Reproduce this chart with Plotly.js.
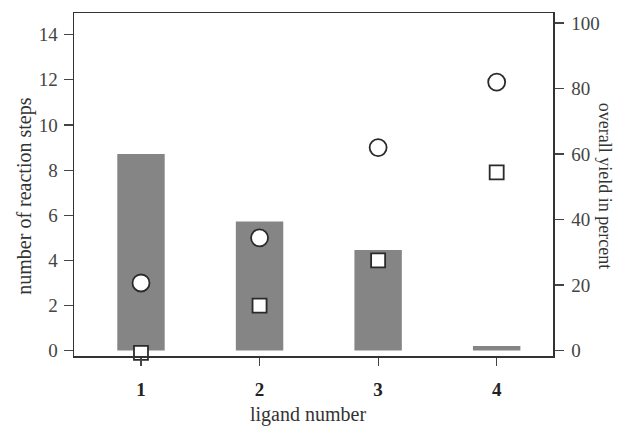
<!DOCTYPE html>
<html>
<head>
<meta charset="utf-8">
<script src="https://cdn.plot.ly/plotly-3.0.1.min.js"></script>
<style>html,body{margin:0;padding:0;background:#fff;}</style>
</head>
<body>
<div id="chart" style="width:618px;height:427px;"></div>
<script>
const ligands = [1, 2, 3, 4];
const tickLabels = ['1', '2', '3', '4'];
const yieldBars = [60, 39.4, 30.7, 1.4];
const stepsCircles = [3, 5, 9, 11.9];
const stepsSquares = [-0.1, 2, 4, 7.9];
const stepTicks = [0, 2, 4, 6, 8, 10, 12, 14];
const yieldTicks = [0, 20, 40, 60, 80, 100];

const font = 'Liberation Serif, Times New Roman, serif';
const traces = [
  {type: 'bar', x: ligands, y: yieldBars, yaxis: 'y', width: 0.4,
   marker: {color: '#858585', line: {width: 0}}, showlegend: false, hoverinfo: 'none'},
  {type: 'scatter', mode: 'markers', x: ligands, y: stepsCircles, yaxis: 'y2',
   marker: {symbol: 'circle', size: 17, color: '#ffffff', line: {color: '#2a2a2a', width: 1.8}},
   showlegend: false, cliponaxis: false},
  {type: 'scatter', mode: 'markers', x: ligands, y: stepsSquares, yaxis: 'y2',
   marker: {symbol: 'square', size: 14, color: '#ffffff', line: {color: '#2a2a2a', width: 1.8}},
   showlegend: false, cliponaxis: false}
];

const axisCommon = {
  showgrid: false, zeroline: false, showline: true, linecolor: '#333', linewidth: 1.5,
  ticks: 'outside', ticklen: 9, tickcolor: '#444', tickwidth: 1.2,
  tickfont: {family: font, size: 19, color: '#444'}
};

const layout = {
  width: 618, height: 427,
  margin: {l: 74, r: 65, t: 13, b: 71},
  paper_bgcolor: '#ffffff', plot_bgcolor: '#ffffff',
  font: {family: font, size: 19, color: '#333333'},
  xaxis: Object.assign({}, axisCommon, {
    range: [0.435, 4.475], tickvals: ligands, ticktext: tickLabels,
    tickfont: {family: font, size: 19, color: '#222', weight: 'bold'},
    mirror: true, ticklen: 8, ticklabelstandoff: 8
  }),
  yaxis: Object.assign({}, axisCommon, {
    side: 'right', range: [-1.68, 103.06], tickvals: yieldTicks, ticklabelstandoff: 4
  }),
  yaxis2: Object.assign({}, axisCommon, {
    overlaying: 'y', side: 'left', range: [-0.235, 14.96], tickvals: stepTicks, ticklabelstandoff: 2
  }),
  annotations: [
    {text: 'number of reaction steps', textangle: -90, xref: 'paper', yref: 'paper',
     x: -0.104, y: 0.465, xanchor: 'center', yanchor: 'middle', showarrow: false,
     font: {family: font, size: 20, color: '#333'}},
    {text: 'overall yield in percent', textangle: 90, xref: 'paper', yref: 'paper',
     x: 1.1086, y: 0.496, xanchor: 'center', yanchor: 'middle', showarrow: false,
     font: {family: font, size: 18, color: '#333'}},
    {text: 'ligand number', xref: 'paper', yref: 'paper',
     x: 0.489, y: -0.17, xanchor: 'center', yanchor: 'middle', showarrow: false,
     font: {family: font, size: 20, color: '#333'}}
  ]
};

Plotly.newPlot('chart', traces, layout, {displayModeBar: false, staticPlot: true});
</script>
</body>
</html>
